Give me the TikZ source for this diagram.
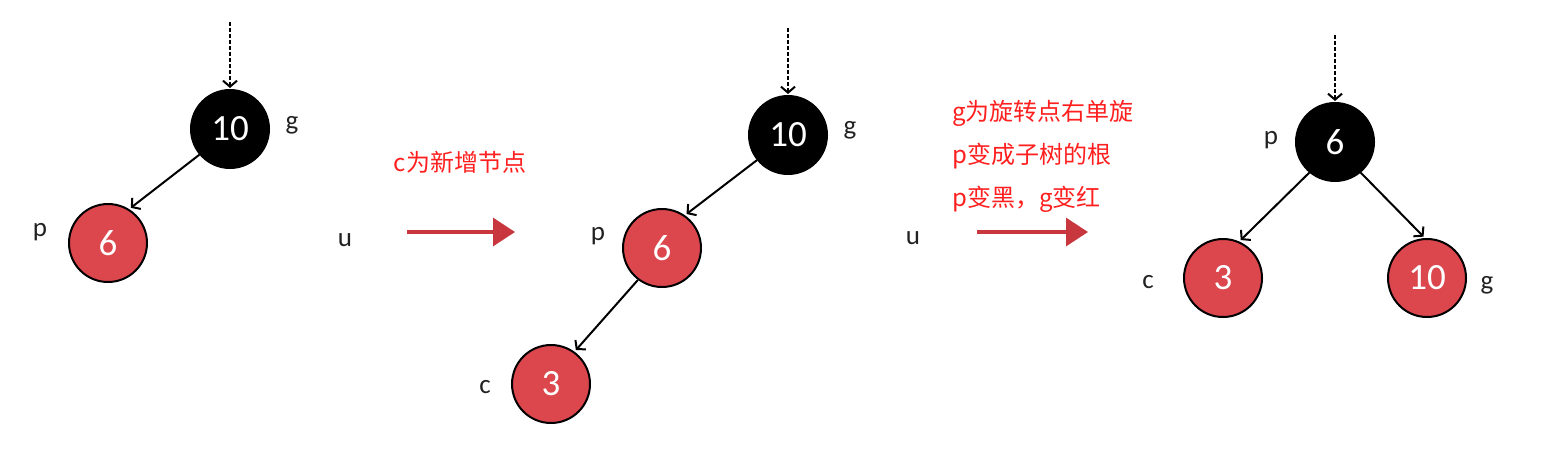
\documentclass[tikz,border=0pt]{standalone}
\usepackage{fontspec}
\setmainfont{Carlito}
\newfontfamily\cjk{Noto Sans CJK SC}
\usetikzlibrary{arrows.meta}
\definecolor{nodered}{HTML}{DC474D}
\definecolor{arrowred}{HTML}{C8373D}
\definecolor{textred}{HTML}{FF1F1F}
\definecolor{labelgray}{HTML}{222222}
\tikzset{
  tnode/.style={circle, draw=black, line width=2pt, minimum size=78pt, inner sep=0pt,
    text=white, font=\fontsize{37}{37}\selectfont},
  blacknode/.style={tnode, fill=black},
  rednode/.style={tnode, fill=nodered},
  lbl/.style={text=labelgray, font=\fontsize{27}{27}\selectfont, inner sep=0pt},
  edge/.style={line width=2pt, -{Straight Barb[length=6pt,width=14pt]}, shorten >=2pt},
  entry/.style={line width=2pt, dash pattern=on 3.5pt off 2.5pt, -{Straight Barb[length=6pt,width=14pt]}, shorten >=1pt},
  bigarrow/.style={arrowred, line width=3.2pt, -{Triangle[length=22pt,width=28pt]}},
  note/.style={text=textred, font=\cjk\fontsize{24}{43}\selectfont, inner sep=0pt},
}
\begin{document}
\begin{tikzpicture}[x=1pt, y=-1pt]
\useasboundingbox (0,0) rectangle (1541,456);
% panel 1
\node[blacknode] (g1) at (230,129) {10};
\node[rednode] (p1) at (108,243) {6};
\node[lbl] (lg1) at (292,125) {g};
\node[lbl] (lp1) at (40,232) {p};
\node[lbl] (lu1) at (345,240) {u};
\coordinate (d1) at (230,22);
\draw[entry] (d1) -- (g1.north);
\draw[edge] (g1.220) -- (p1.58);
% arrow 1
\coordinate (a1s) at (407,232);
\coordinate (a1e) at (515,232);
\draw[bigarrow] (a1s) -- (a1e);
\node[note] (t1) at (460,162) {c为新增节点};
% panel 2
\node[blacknode] (g2) at (788,135) {10};
\node[rednode] (p2) at (662,248) {6};
\node[rednode] (c2) at (551,384) {3};
\node[lbl] (lg2) at (850,130) {g};
\node[lbl] (lp2) at (598,236) {p};
\node[lbl] (lc2) at (485,387) {c};
\node[lbl] (lu2) at (913,238) {u};
\coordinate (d2) at (788,28);
\draw[entry] (d2) -- (g2.north);
\draw[edge] (g2.219) -- (p2.55);
\draw[edge] (p2.233) -- (c2.54);
% arrow 2
\coordinate (a2s) at (977,232);
\coordinate (a2e) at (1088,232);
\draw[bigarrow] (a2s) -- (a2e);
\node[note, anchor=west, align=left] (t2) at (952,156) {g为旋转点右单旋\\p变成子树的根\\p变黑，g变红};
% panel 3
\node[blacknode] (p3) at (1335,142) {6};
\node[rednode] (c3) at (1223,278) {3};
\node[rednode] (g3) at (1427,278) {10};
\node[lbl] (lp3) at (1271,140) {p};
\node[lbl] (lc3) at (1148,282) {c};
\node[lbl] (lg3) at (1487,285) {g};
\coordinate (d3) at (1335,35);
\draw[entry] (d3) -- (p3.north);
\draw[edge] (p3.230) -- (c3.66);
\draw[edge] (p3.310) -- (g3.93);
\end{tikzpicture}
\end{document}
